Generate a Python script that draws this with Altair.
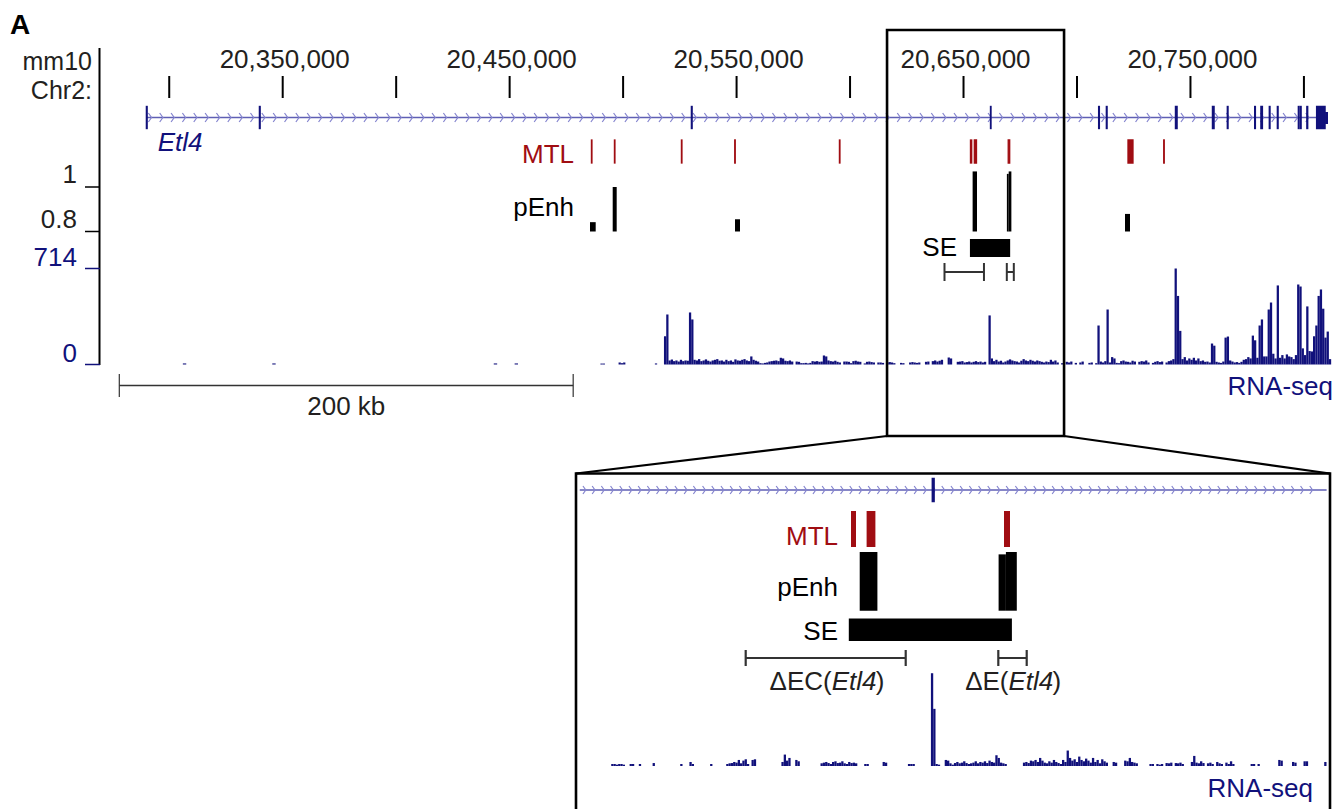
import altair as alt
import pandas as pd

# ---------------------------------------------------------------- layout ----
W, H = 1341, 809
FONT = "Liberation Sans"
FS = 26

NAVY = "#11117b"
RED = "#a00d12"
INTRON = "#5f5fb4"
CHEVRON = "#8585cf"
INK = "#231f20"
GREY = "#333333"

# ------------------------------------------------------ genomic intervals ----
# mm10 chr2 coordinates
locus_view = [20225430, 20816335]     # upper, whole-locus track set
zoom_view = [20623281, 20704912]      # lower, enlarged track set
zoom_box = [20616300, 20694300]       # outline drawn on the locus view

ruler_minor = list(range(20300000, 20800001, 50000))
ruler_major = [20350000, 20450000, 20550000, 20650000, 20750000]

scale_bar_start = 20278000
scale_bar_len = 200000

# Etl4 transcript and exons
etl4_tx = [20290073, 20810600]
etl4_exon_start = [20289950, 20339750, 20530100, 20661900, 20709550, 20712950,
                   20743400, 20759700, 20766250, 20778300, 20781050, 20784750,
                   20788300, 20797550, 20798450, 20801300, 20805600]
etl4_exon_end = [20290250, 20340050, 20530400, 20662100, 20709850, 20713250,
                 20744100, 20760400, 20766550, 20778600, 20781700, 20785050,
                 20788600, 20797850, 20798750, 20801650, 20809300]
etl4_utr = [20809300, 20810600]

# MTL (red)
mtl_start = [20486050, 20496180, 20525700, 20549190, 20595320,
             20653064, 20654760, 20669694, 20722473, 20738220]
mtl_end = [20486270, 20496400, 20525930, 20549410, 20595550,
           20653607, 20655716, 20670347, 20724676, 20738450]

# predicted enhancers (pEnh score)
penh_start = [20485409, 20495411, 20549302, 20654010, 20669107, 20669901, 20721151]
penh_end = [20487920, 20497174, 20551505, 20655934, 20669901, 20671086, 20723354]
penh_score = [0.842, 1.0, 0.855, 1.07, 1.059, 1.07, 0.879]

# super-enhancer
se_interval = [20652825, 20670553]

# deletions
del_names = ["\u0394EC", "\u0394E"]
del_start = [20641618, 20669075]
del_end = [20659010, 20672162]

# RNA-seq coverage, locus view: 1 kb bins
rna_locus_start = 20490000
rna_locus_bin = 1000
rna_locus_values = [
    7, 7, 0, 0, 0, 0, 0, 0, 15, 10, 15, 0, 0, 0, 0, 0, 0, 0, 0, 0,
    0, 0, 0, 0, 8, 0, 0, 0, 210, 372, 30, 37, 25, 30, 22, 35, 25, 30, 28, 387,
    335, 35, 30, 40, 25, 30, 38, 28, 22, 30, 35, 40, 28, 30, 22, 35, 25, 30, 20, 38,
    30, 28, 35, 40, 30, 25, 60, 35, 28, 22, 10, 8, 12, 15, 22, 25, 28, 30, 25, 50,
    45, 28, 25, 30, 22, 0, 22, 20, 10, 10, 12, 8, 12, 25, 22, 25, 20, 22, 67, 60,
    30, 25, 22, 28, 20, 15, 0, 22, 22, 20, 10, 25, 28, 22, 20, 0, 8, 20, 22, 18,
    15, 0, 15, 15, 12, 0, 15, 18, 15, 10, 0, 0, 12, 10, 0, 0, 15, 18, 15, 12,
    15, 0, 0, 20, 22, 0, 25, 30, 22, 28, 35, 0, 0, 52, 45, 0, 0, 20, 22, 25,
    15, 18, 22, 15, 20, 25, 18, 22, 15, 20, 0, 365, 45, 25, 35, 22, 28, 15, 22, 30,
    38, 30, 25, 22, 15, 28, 40, 30, 25, 35, 28, 22, 30, 25, 20, 15, 22, 18, 35, 22,
    30, 15, 0, 10, 0, 20, 15, 22, 0, 12, 0, 15, 22, 0, 0, 12, 15, 0, 10, 290,
    22, 15, 25, 409, 15, 55, 45, 12, 10, 25, 30, 22, 20, 15, 28, 22, 0, 20, 25, 22,
    30, 15, 0, 12, 20, 25, 18, 22, 0, 15, 25, 30, 40, 714, 510, 250, 40, 55, 30, 45,
    35, 50, 30, 45, 25, 30, 20, 22, 15, 156, 140, 20, 15, 12, 22, 200, 208, 30, 22, 15,
    18, 12, 20, 35, 40, 55, 45, 215, 180, 50, 290, 335, 60, 60, 409, 461, 80, 45, 588, 50,
    70, 45, 75, 60, 55, 40, 70, 595, 580, 120, 70, 432, 100, 97, 210, 290, 510, 558, 415, 200,
    245, 40,
]
# isolated low-coverage bins further upstream
rna_locus_sparse_start = [20306000, 20345400, 20443000, 20452200]
rna_locus_sparse_value = [8, 8, 8, 8]

# RNA-seq coverage, enlarged view: 250 bp bins
rna_zoom_start = 20626750
rna_zoom_bin = 250
rna_zoom_values = [
    0, 15, 15, 10, 15, 15, 10, 0, 0, 15, 15, 0, 0, 15, 0, 0, 0, 0, 0, 22,
    0, 0, 0, 0, 0, 0, 0, 0, 0, 0, 0, 15, 0, 0, 0, 30, 15, 0, 0, 0,
    0, 0, 0, 0, 15, 0, 0, 0, 0, 0, 0, 15, 20, 22, 30, 25, 45, 20, 40, 50,
    15, 0, 45, 50, 0, 0, 0, 0, 0, 0, 0, 0, 0, 0, 0, 30, 85, 40, 60, 0,
    0, 45, 35, 0, 0, 0, 0, 0, 0, 0, 0, 0, 20, 25, 30, 22, 15, 30, 35, 22,
    25, 35, 20, 15, 30, 22, 25, 20, 0, 0, 0, 15, 15, 0, 0, 0, 0, 0, 0, 30,
    25, 0, 0, 0, 0, 0, 0, 0, 0, 0, 15, 15, 15, 0, 0, 0, 0, 0, 0, 0,
    690, 425, 15, 10, 0, 0, 45, 40, 20, 10, 22, 30, 20, 25, 35, 22, 15, 20, 25, 35,
    20, 30, 25, 35, 22, 40, 30, 25, 80, 60, 25, 20, 15, 0, 0, 0, 0, 0, 0, 0,
    25, 30, 22, 40, 35, 45, 30, 60, 40, 25, 20, 35, 25, 45, 30, 22, 15, 45, 30, 115,
    60, 40, 50, 30, 70, 45, 35, 55, 40, 25, 60, 30, 45, 20, 50, 35, 25, 0, 0, 30,
    25, 0, 0, 0, 40, 35, 60, 30, 25, 20, 0, 0, 0, 0, 0, 15, 15, 0, 15, 10,
    15, 0, 22, 20, 25, 0, 22, 20, 25, 15, 0, 0, 0, 30, 75, 25, 20, 35, 22, 0,
    20, 25, 15, 0, 30, 20, 15, 0, 25, 15, 35, 15, 0, 0, 0, 0, 0, 0, 0, 15,
    15, 0, 15, 0, 0, 0, 0, 0, 0, 0, 0, 45, 40, 0, 0, 0, 0, 30, 25, 0,
    0, 0, 35, 35, 0, 0, 0, 0, 0, 0, 0, 30, 30,
]
rna_max = 714

# ------------------------------------------------------------ tables --------
def bins(start, size, values):
    s = [start + i * size for i in range(len(values))]
    return pd.DataFrame({"s": s, "e": [v + size for v in s], "v": values})


exons = pd.DataFrame({"s": etl4_exon_start, "e": etl4_exon_end})
mtl = pd.DataFrame({"s": mtl_start, "e": mtl_end})
penh = pd.DataFrame({"s": penh_start, "e": penh_end, "v": penh_score})
se = pd.DataFrame({"s": [se_interval[0]], "e": [se_interval[1]]})
dels = pd.DataFrame({"name": del_names, "s": del_start, "e": del_end})
dels["mid"] = (dels["s"] + dels["e"]) / 2
rna_locus = pd.concat([
    bins(rna_locus_start, rna_locus_bin, rna_locus_values),
    pd.DataFrame({"s": rna_locus_sparse_start,
                  "e": [s + 1500 for s in rna_locus_sparse_start],
                  "v": rna_locus_sparse_value}),
])
rna_zoom = bins(rna_zoom_start, rna_zoom_bin, rna_zoom_values)
rna_zoom = rna_zoom[(rna_zoom.s >= zoom_view[0]) & (rna_zoom.e <= zoom_view[1])]


def in_view(df, view):
    return df[(df.e > view[0]) & (df.s < view[1])]


# ------------------------------------------------------------ scales --------
def gx(view, rng, field="s"):
    return alt.X(f"{field}:Q", axis=None,
                 scale=alt.Scale(domain=view, range=rng, nice=False, zero=False))


TOP = (locus_view, [0, W])
LOW = (zoom_view, [577, 1328])


def gy(domain, rng, field="v", clamp=False):
    return alt.Y(f"{field}:Q", axis=None,
                 scale=alt.Scale(domain=domain, range=rng, nice=False, zero=False, clamp=clamp))


one = pd.DataFrame({"k": [0]})


def label(text, x, y, size=FS, color=INK, align="right", style="normal", weight="normal"):
    return alt.Chart(one).mark_text(
        text=text, font=FONT, fontSize=size, color=color, align=align,
        baseline="alphabetic", fontStyle=style, fontWeight=weight,
    ).encode(x=alt.value(x), y=alt.value(y))


def vline(x, y1, y2, width=2, color="black"):
    return alt.Chart(one).mark_rule(color=color, strokeWidth=width).encode(
        x=alt.value(x), y=alt.value(y1), y2=alt.value(y2))


CHEV_PATH = "M-0.35,-1L0.35,0L-0.35,1"


def gene_track(view, rng, y, exon_h, chev_step, chev_first, chev_size, line_from, line_to):
    line = alt.Chart(pd.DataFrame({"s": [line_from], "e": [line_to]})).mark_rule(
        color=INTRON, strokeWidth=1.6).encode(
        x=gx(view, rng), x2="e:Q", y=alt.value(y))
    chev = alt.Chart(alt.sequence(chev_first, line_to - 1500, chev_step, as_="s")).mark_point(
        shape=CHEV_PATH, filled=False, color=CHEVRON, strokeWidth=1.2, size=chev_size, opacity=1
    ).encode(x=gx(view, rng), y=alt.value(y))
    ex = alt.Chart(in_view(exons, view)).mark_rect(color=NAVY, stroke=NAVY, strokeWidth=1.4).encode(
        x=gx(view, rng), x2="e:Q", y=alt.value(y - exon_h / 2), y2=alt.value(y + exon_h / 2))
    return [line, chev, ex]


layers = []

# panel letter
layers.append(label("A", 10, 34, size=28, color="black", align="left", weight="bold"))

# ---------------------------------------------------------- locus view ------
layers.append(label("mm10", 92, 70, size=25))
layers.append(label("Chr2:", 92, 99, size=25))
layers.append(vline(99.5, 48, 365))

ruler = pd.DataFrame({"s": ruler_minor})
layers.append(alt.Chart(ruler).mark_rule(color="black", strokeWidth=2).encode(
    x=gx(*TOP), y=alt.value(76), y2=alt.value(98)))
layers.append(alt.Chart(pd.DataFrame({"s": ruler_major})).mark_text(
    font=FONT, fontSize=FS, color=INK, baseline="alphabetic", dx=2).encode(
    x=gx(*TOP), y=alt.value(68), text=alt.Text("s:Q", format=",")))

layers += gene_track(*TOP, y=117.5, exon_h=22, chev_step=5000, chev_first=20291500,
                     chev_size=81, line_from=etl4_tx[0], line_to=etl4_tx[1])
layers.append(alt.Chart(pd.DataFrame({"s": [etl4_utr[0]], "e": [etl4_utr[1]]})).mark_rect(
    color=NAVY).encode(x=gx(*TOP), x2="e:Q", y=alt.value(112), y2=alt.value(124)))
layers.append(alt.Chart(pd.DataFrame({"s": [etl4_tx[0]]})).mark_text(
    text="Etl4", font=FONT, fontSize=FS, fontStyle="italic", color=NAVY, align="left",
    baseline="alphabetic", dx=11).encode(x=gx(*TOP), y=alt.value(151)))

# MTL
layers.append(label("MTL", 574, 163, color=RED))
layers.append(alt.Chart(mtl).mark_rect(color=RED, stroke=RED, strokeWidth=1.3).encode(
    x=gx(*TOP), x2="e:Q", y=alt.value(140), y2=alt.value(163)))

# pEnh
PENH_TOP = ([0.8, 1.0], [231.5, 187])
layers.append(label("pEnh", 574, 216, color="black"))
layers.append(alt.Chart(penh).mark_rect(color="black").encode(
    x=gx(*TOP), x2="e:Q", y=gy(*PENH_TOP), y2=alt.value(231.5)))
layers.append(alt.Chart(pd.DataFrame({"v": [1.0, 0.8]})).mark_rule(
    color="black", strokeWidth=1.5).encode(y=gy(*PENH_TOP), x=alt.value(85), x2=alt.value(100)))
layers.append(alt.Chart(pd.DataFrame({"v": [1.0, 0.8]})).mark_text(
    font=FONT, fontSize=FS, color=INK, align="right", baseline="alphabetic", dy=-4).encode(
    y=gy(*PENH_TOP), x=alt.value(77), text=alt.Text("v:Q", format="~g")))

# SE
layers.append(label("SE", 957, 256, color="black"))
layers.append(alt.Chart(se).mark_rect(color="black").encode(
    x=gx(*TOP), x2="e:Q", y=alt.value(239), y2=alt.value(257)))

# deletions (brackets)
layers.append(alt.Chart(dels).mark_rule(color=GREY, strokeWidth=2).encode(
    x=gx(*TOP), x2="e:Q", y=alt.value(272)))
for f in ["s", "e"]:
    layers.append(alt.Chart(dels).mark_rule(color=GREY, strokeWidth=2).encode(
        x=gx(*TOP, field=f), y=alt.value(263), y2=alt.value(281)))

# RNA-seq
RNA_TOP = ([0, rna_max], [364.5, 268.5])
layers.append(alt.Chart(rna_locus).mark_rect(color=NAVY).encode(
    x=gx(*TOP), x2="e:Q", y=gy(*RNA_TOP, clamp=True), y2=alt.value(364.5)))
layers.append(alt.Chart(pd.DataFrame({"v": [rna_max, 0]})).mark_rule(
    color=NAVY, strokeWidth=1.5).encode(y=gy(*RNA_TOP), x=alt.value(85), x2=alt.value(100)))
layers.append(alt.Chart(pd.DataFrame({"v": [rna_max, 0]})).mark_text(
    font=FONT, fontSize=FS, color=NAVY, align="right", baseline="alphabetic", dy=-3).encode(
    y=gy(*RNA_TOP), x=alt.value(77), text=alt.Text("v:Q", format="d")))
layers.append(label("RNA-seq", 1333, 395, color=NAVY))

# scale bar
sb = pd.DataFrame({"s": [scale_bar_start], "e": [scale_bar_start + scale_bar_len]})
sb["mid"] = sb["s"] + scale_bar_len / 2
layers.append(alt.Chart(sb).mark_rule(color=GREY, strokeWidth=1.4).encode(
    x=gx(*TOP), x2="e:Q", y=alt.value(385.5)))
for f in ["s", "e"]:
    layers.append(alt.Chart(sb).mark_rule(color=GREY, strokeWidth=1.2).encode(
        x=gx(*TOP, field=f), y=alt.value(374), y2=alt.value(397)))
layers.append(alt.Chart(sb).mark_text(
    text=f"{scale_bar_len // 1000} kb", font=FONT, fontSize=FS, color=INK,
    baseline="alphabetic").encode(x=gx(*TOP, field="mid"), y=alt.value(415)))

# zoom outline and connectors
zb = pd.DataFrame({"s": [zoom_box[0]], "e": [zoom_box[1]]})
layers.append(alt.Chart(zb).mark_rect(fillOpacity=0, stroke="black", strokeWidth=2.6).encode(
    x=gx(*TOP), x2="e:Q", y=alt.value(30), y2=alt.value(436)))
layers.append(alt.Chart(zb).mark_rule(color="black", strokeWidth=2.2).encode(
    x=gx(*TOP, field="s"), y=alt.value(436), x2=alt.value(576), y2=alt.value(473.5)))
layers.append(alt.Chart(zb).mark_rule(color="black", strokeWidth=2.2).encode(
    x=gx(*TOP, field="e"), y=alt.value(436), x2=alt.value(1330), y2=alt.value(473.5)))

# ----------------------------------------------------------- zoom view -----
layers.append(alt.Chart(one).mark_rect(fillOpacity=0, stroke="black", strokeWidth=2.6).encode(
    x=alt.value(576), x2=alt.value(1330), y=alt.value(473.5), y2=alt.value(840)))

layers += gene_track(*LOW, y=490, exon_h=23, chev_step=1000, chev_first=zoom_view[0] + 800,
                     chev_size=64, line_from=zoom_view[0] + 300, line_to=zoom_view[1] - 150)

layers.append(label("MTL", 838, 545, color=RED))
layers.append(alt.Chart(in_view(mtl, zoom_view)).mark_rect(color=RED).encode(
    x=gx(*LOW), x2="e:Q", y=alt.value(511), y2=alt.value(547)))

PENH_LOW = ([0.8, 1.0], [610.7, 567.2])
layers.append(label("pEnh", 838, 596, color="black"))
layers.append(alt.Chart(in_view(penh, zoom_view)).mark_rect(color="black").encode(
    x=gx(*LOW), x2="e:Q", y=gy(*PENH_LOW), y2=alt.value(610.7)))

layers.append(label("SE", 838, 640, color="black"))
layers.append(alt.Chart(se).mark_rect(color="black").encode(
    x=gx(*LOW), x2="e:Q", y=alt.value(618.5), y2=alt.value(641)))

layers.append(alt.Chart(dels).mark_rule(color=GREY, strokeWidth=2).encode(
    x=gx(*LOW), x2="e:Q", y=alt.value(658)))
for f in ["s", "e"]:
    layers.append(alt.Chart(dels).mark_rule(color=GREY, strokeWidth=2.2).encode(
        x=gx(*LOW, field=f), y=alt.value(650), y2=alt.value(666)))

# deletion names: "<name>(" + italic gene + ")"
name_dx = {"\u0394EC": 6, "\u0394E": -4}
for _, r in dels.iterrows():
    d = pd.DataFrame({"s": [r["mid"]]})
    dx = name_dx[r["name"]]
    layers.append(alt.Chart(d).mark_text(
        text=r["name"] + "(", font=FONT, fontSize=FS, color=INK, align="right",
        baseline="alphabetic", dx=dx).encode(x=gx(*LOW), y=alt.value(690)))
    layers.append(alt.Chart(d).mark_text(
        text="Etl4", font=FONT, fontSize=FS, fontStyle="italic", color=INK, align="left",
        baseline="alphabetic", dx=dx).encode(x=gx(*LOW), y=alt.value(690)))
    layers.append(alt.Chart(d).mark_text(
        text=")", font=FONT, fontSize=FS, color=INK, align="left",
        baseline="alphabetic", dx=dx + 44).encode(x=gx(*LOW), y=alt.value(690)))

RNA_LOW = ([0, rna_max], [766, 670])
layers.append(alt.Chart(rna_zoom).mark_rect(color=NAVY).encode(
    x=gx(*LOW), x2="e:Q", y=gy(*RNA_LOW, clamp=True), y2=alt.value(766)))
layers.append(label("RNA-seq", 1313, 797, color=NAVY))

chart = alt.layer(*layers).resolve_scale(x="independent", y="independent").properties(
    width=W, height=H, padding=0, autosize="none", background="white"
).configure_view(stroke=None)

chart.save("out.html", embed_options={"renderer": "svg", "actions": False})
